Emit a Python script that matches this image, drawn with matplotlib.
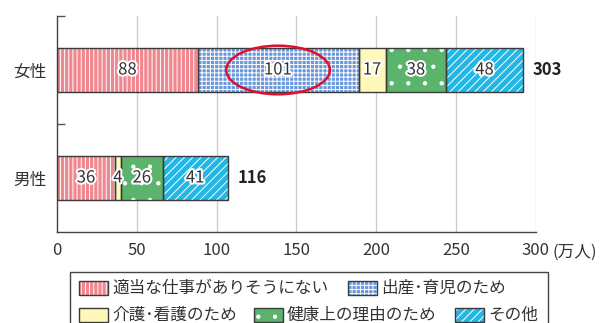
import matplotlib
matplotlib.use("Agg")
import matplotlib.pyplot as plt
import matplotlib.patheffects as pe
from matplotlib.patches import Rectangle, Ellipse

plt.rcParams["font.family"] = ["Noto Sans CJK JP", "DejaVu Sans"]
plt.rcParams["hatch.linewidth"] = 0.7

groups = ["男性", "女性"]
reasons = ["適当な仕事がありそうにない", "出産･育児のため", "介護･看護のため",
           "健康上の理由のため", "その他"]
# male has no 出産・育児 segment
male_vals = [36, 0, 4, 26, 41]
female_vals = [88, 101, 17, 38, 48]
totals = [116, 303]
x_ticks = [0, 50, 100, 150, 200, 250, 300]

colors = ["#F0868E", "#6A98DA", "#FFF8B8", "#5BB46C", "#23B7E6"]
hatches = ["||||", "++++", "", ".", "////"]
edge = "#3a3a3a"

fig = plt.figure(figsize=(6.13, 3.23), dpi=100)
ax = fig.add_axes([57.3 / 613, 1 - 232 / 323, 478.2 / 613, 216 / 323])

ypos = [0, 1]
bar_h = 0.4
lefts = [0, 0]
for i, reason in enumerate(reasons):
    vals = [male_vals[i], female_vals[i]]
    for y, v, l in zip(ypos, vals, lefts):
        if v == 0:
            continue
        ax.barh(y, v, left=l, height=bar_h, color=colors[i], edgecolor="white",
                linewidth=0, hatch=hatches[i], zorder=2)
        ax.barh(y, v, left=l, height=bar_h, fill=False, edgecolor=edge,
                linewidth=1, zorder=3)
        ax.text(l + v / 2, y, str(v), ha="center", va="center", fontsize=12,
                color="#333333", zorder=5,
                path_effects=[pe.withStroke(linewidth=3, foreground="white")])
    lefts = [l + v for l, v in zip(lefts, vals)]

for y, l, t in zip(ypos, lefts, totals):
    ax.annotate(str(t), (l, y), xytext=(7, 0), textcoords="offset points",
                ha="left", va="center", fontsize=12, fontweight="bold",
                color="#222222")

# highlight the childbirth/childcare segment for women
ax.add_patch(Ellipse((female_vals[0] + female_vals[1] / 2, 1), 65, 0.45,
                     fill=False, edgecolor="#E0102A", linewidth=1.8, zorder=6))

ax.set_xlim(0, 300)
ax.set_ylim(-0.5, 1.5)
ax.set_xticks(x_ticks)
ax.set_xticklabels([str(t) for t in x_ticks], fontsize=12, color="#333333")
ax.tick_params(axis="x", length=0, pad=7)
ax.set_yticks(ypos)
ax.set_yticklabels(groups, fontsize=12, color="#333333")
ax.tick_params(axis="y", length=0, pad=8)
ax.set_yticks([0.5, 1.5], minor=True)
ax.tick_params(axis="y", which="minor", direction="in", length=6,
               color="#555555", width=1)
for g in x_ticks[1:]:
    ax.axvline(g, color="#CCCCCC", linewidth=1, zorder=0)
for s in ["top", "right"]:
    ax.spines[s].set_visible(False)
for s in ["left", "bottom"]:
    ax.spines[s].set_color("#444444")
    ax.spines[s].set_linewidth(1)
ax.text(553 / 613, 1 - 252 / 323, "(万人)", transform=fig.transFigure,
        ha="left", va="center", fontsize=12, color="#333333")

# legend drawn by hand in figure pixels
W, H = 613, 323


def fx(px):
    return px / W


def fy(py):
    return 1 - py / H


fig.add_artist(Rectangle((fx(70), fy(340)), fx(478), 68 / H, fill=False,
                         edgecolor="#444444", linewidth=1,
                         transform=fig.transFigure))
legend_items = [
    (0, 79, 288), (1, 348, 288),
    (2, 79, 315), (3, 254, 315), (4, 455, 315),
]
for idx, px, py in legend_items:
    fig.add_artist(Rectangle((fx(px), fy(py + 7)), 29 / W, 14 / H,
                             facecolor=colors[idx], edgecolor="white",
                             linewidth=0, hatch=hatches[idx],
                             transform=fig.transFigure))
    fig.add_artist(Rectangle((fx(px), fy(py + 7)), 29 / W, 14 / H,
                             fill=False, edgecolor=edge, linewidth=1,
                             transform=fig.transFigure))
    fig.text(fx(px + 33), fy(py), reasons[idx], ha="left", va="center",
             fontsize=12, color="#333333")

fig.savefig("out.png", dpi=100)
